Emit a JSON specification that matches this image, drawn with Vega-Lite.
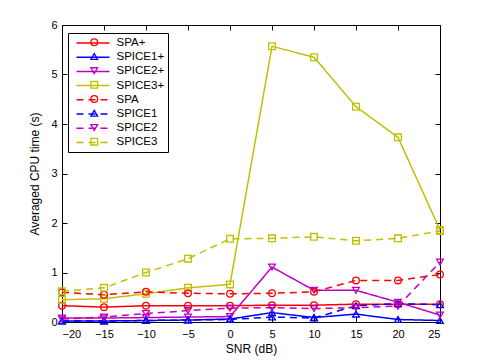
{
  "$schema": "https://vega.github.io/schema/vega-lite/v6.json",
  "width": 378,
  "height": 297,
  "autosize": "none",
  "padding": {"left": 62, "top": 25, "right": 45, "bottom": 41},
  "background": "white",
  "config": {
    "view": {"stroke": "black", "strokeWidth": 1},
    "font": "Liberation Sans",
    "axis": {"grid": false, "domain": false, "labelFont": "Liberation Sans", "titleFont": "Liberation Sans", "labelFontSize": 11, "titleFontSize": 12, "titleFontWeight": "normal", "labelColor": "black", "titleColor": "black", "tickColor": "black"}
  },
  "data": {"values": [
    {"snr": -20, "series": "SPA+", "time": 0.33},
    {"snr": -15, "series": "SPA+", "time": 0.30},
    {"snr": -10, "series": "SPA+", "time": 0.33},
    {"snr": -5, "series": "SPA+", "time": 0.33},
    {"snr": 0, "series": "SPA+", "time": 0.33},
    {"snr": 5, "series": "SPA+", "time": 0.34},
    {"snr": 10, "series": "SPA+", "time": 0.34},
    {"snr": 15, "series": "SPA+", "time": 0.36},
    {"snr": 20, "series": "SPA+", "time": 0.36},
    {"snr": 25, "series": "SPA+", "time": 0.36},
    {"snr": -20, "series": "SPICE1+", "time": 0.02},
    {"snr": -15, "series": "SPICE1+", "time": 0.02},
    {"snr": -10, "series": "SPICE1+", "time": 0.03},
    {"snr": -5, "series": "SPICE1+", "time": 0.04},
    {"snr": 0, "series": "SPICE1+", "time": 0.06},
    {"snr": 5, "series": "SPICE1+", "time": 0.19},
    {"snr": 10, "series": "SPICE1+", "time": 0.09},
    {"snr": 15, "series": "SPICE1+", "time": 0.16},
    {"snr": 20, "series": "SPICE1+", "time": 0.05},
    {"snr": 25, "series": "SPICE1+", "time": 0.03},
    {"snr": -20, "series": "SPICE2+", "time": 0.08},
    {"snr": -15, "series": "SPICE2+", "time": 0.08},
    {"snr": -10, "series": "SPICE2+", "time": 0.09},
    {"snr": -5, "series": "SPICE2+", "time": 0.10},
    {"snr": 0, "series": "SPICE2+", "time": 0.11},
    {"snr": 5, "series": "SPICE2+", "time": 1.11},
    {"snr": 10, "series": "SPICE2+", "time": 0.64},
    {"snr": 15, "series": "SPICE2+", "time": 0.64},
    {"snr": 20, "series": "SPICE2+", "time": 0.40},
    {"snr": 25, "series": "SPICE2+", "time": 0.14},
    {"snr": -20, "series": "SPICE3+", "time": 0.45},
    {"snr": -15, "series": "SPICE3+", "time": 0.47},
    {"snr": -10, "series": "SPICE3+", "time": 0.57},
    {"snr": -5, "series": "SPICE3+", "time": 0.69},
    {"snr": 0, "series": "SPICE3+", "time": 0.76},
    {"snr": 5, "series": "SPICE3+", "time": 5.57},
    {"snr": 10, "series": "SPICE3+", "time": 5.35},
    {"snr": 15, "series": "SPICE3+", "time": 4.35},
    {"snr": 20, "series": "SPICE3+", "time": 3.73},
    {"snr": 25, "series": "SPICE3+", "time": 1.86},
    {"snr": -20, "series": "SPA", "time": 0.60},
    {"snr": -15, "series": "SPA", "time": 0.55},
    {"snr": -10, "series": "SPA", "time": 0.61},
    {"snr": -5, "series": "SPA", "time": 0.58},
    {"snr": 0, "series": "SPA", "time": 0.57},
    {"snr": 5, "series": "SPA", "time": 0.58},
    {"snr": 10, "series": "SPA", "time": 0.61},
    {"snr": 15, "series": "SPA", "time": 0.84},
    {"snr": 20, "series": "SPA", "time": 0.84},
    {"snr": 25, "series": "SPA", "time": 0.96},
    {"snr": -20, "series": "SPICE1", "time": 0.02},
    {"snr": -15, "series": "SPICE1", "time": 0.02},
    {"snr": -10, "series": "SPICE1", "time": 0.03},
    {"snr": -5, "series": "SPICE1", "time": 0.04},
    {"snr": 0, "series": "SPICE1", "time": 0.05},
    {"snr": 5, "series": "SPICE1", "time": 0.10},
    {"snr": 10, "series": "SPICE1", "time": 0.08},
    {"snr": 15, "series": "SPICE1", "time": 0.33},
    {"snr": 20, "series": "SPICE1", "time": 0.37},
    {"snr": 25, "series": "SPICE1", "time": 0.35},
    {"snr": -20, "series": "SPICE2", "time": 0.06},
    {"snr": -15, "series": "SPICE2", "time": 0.10},
    {"snr": -10, "series": "SPICE2", "time": 0.17},
    {"snr": -5, "series": "SPICE2", "time": 0.23},
    {"snr": 0, "series": "SPICE2", "time": 0.28},
    {"snr": 5, "series": "SPICE2", "time": 0.29},
    {"snr": 10, "series": "SPICE2", "time": 0.27},
    {"snr": 15, "series": "SPICE2", "time": 0.29},
    {"snr": 20, "series": "SPICE2", "time": 0.32},
    {"snr": 25, "series": "SPICE2", "time": 1.21},
    {"snr": -20, "series": "SPICE3", "time": 0.62},
    {"snr": -15, "series": "SPICE3", "time": 0.69},
    {"snr": -10, "series": "SPICE3", "time": 1.00},
    {"snr": -5, "series": "SPICE3", "time": 1.28},
    {"snr": 0, "series": "SPICE3", "time": 1.68},
    {"snr": 5, "series": "SPICE3", "time": 1.69},
    {"snr": 10, "series": "SPICE3", "time": 1.72},
    {"snr": 15, "series": "SPICE3", "time": 1.64},
    {"snr": 20, "series": "SPICE3", "time": 1.69},
    {"snr": 25, "series": "SPICE3", "time": 1.84}
  ]},
  "layer": [
    {
      "mark": {"type": "line", "strokeWidth": 1.5},
      "encoding": {
        "x": {"field": "snr", "type": "quantitative", "scale": {"domain": [-20, 25], "nice": false, "zero": false},
              "axis": {"orient": "bottom", "values": [-20, -15, -10, -5, 0, 5, 10, 15, 20, 25], "tickSize": -5, "labelPadding": 11, "title": "SNR (dB)", "titlePadding": 4}},
        "y": {"field": "time", "type": "quantitative", "scale": {"domain": [0, 6], "nice": false},
              "axis": {"orient": "left", "values": [0, 1, 2, 3, 4, 5, 6], "tickSize": -5, "labelPadding": 10, "title": "Averaged CPU time (s)", "titlePadding": 9}},
        "color": {"field": "series", "type": "nominal",
                  "scale": {"domain": ["SPA+", "SPICE1+", "SPICE2+", "SPICE3+", "SPA", "SPICE1", "SPICE2", "SPICE3"],
                            "range": ["#ff0000", "#0000ff", "#c000c0", "#c0c000", "#ff0000", "#0000ff", "#c000c0", "#c0c000"]},
                  "legend": {"orient": "none", "legendX": 6, "legendY": 8, "title": null, "symbolType": "M-3,0H3", "symbolSize": 121, "symbolStrokeWidth": 1.5,
                             "labelFont": "Liberation Sans", "labelFontSize": 11.5, "labelColor": "black", "padding": 3.5, "symbolOffset": 15, "labelOffset": 17,
                             "rowPadding": 2.2, "strokeColor": "black", "fillColor": "white", "cornerRadius": 0}},
        "strokeDash": {"field": "series", "type": "nominal",
                       "scale": {"domain": ["SPA+", "SPICE1+", "SPICE2+", "SPICE3+", "SPA", "SPICE1", "SPICE2", "SPICE3"],
                                 "range": [[1, 0], [1, 0], [1, 0], [1, 0], [7, 5], [7, 5], [7, 5], [7, 5]]}}
      }
    },
    {
      "mark": {"type": "point", "filled": false, "size": 45, "strokeWidth": 1.3, "opacity": 1},
      "encoding": {
        "x": {"field": "snr", "type": "quantitative", "scale": {"domain": [-20, 25], "nice": false, "zero": false},
              "axis": {"orient": "top", "values": [-20, -15, -10, -5, 0, 5, 10, 15, 20, 25], "tickSize": -5, "labels": false, "title": null}},
        "y": {"field": "time", "type": "quantitative", "scale": {"domain": [0, 6], "nice": false},
              "axis": {"orient": "right", "values": [0, 1, 2, 3, 4, 5, 6], "tickSize": -5, "labels": false, "title": null}},
        "color": {"field": "series", "type": "nominal",
                  "scale": {"domain": ["SPA+", "SPICE1+", "SPICE2+", "SPICE3+", "SPA", "SPICE1", "SPICE2", "SPICE3"],
                            "range": ["#ff0000", "#0000ff", "#c000c0", "#c0c000", "#ff0000", "#0000ff", "#c000c0", "#c0c000"]},
                  "legend": {"orient": "none", "legendX": 20, "legendY": 8, "title": null, "symbolSize": 45, "symbolStrokeWidth": 1.3, "symbolFillColor": "transparent",
                             "labelFontSize": 11.5, "labelExpr": "''", "padding": 3.5, "symbolOffset": 3, "labelOffset": 4, "rowPadding": 1.2}},
        "shape": {"field": "series", "type": "nominal",
                  "scale": {"domain": ["SPA+", "SPICE1+", "SPICE2+", "SPICE3+", "SPA", "SPICE1", "SPICE2", "SPICE3"],
                            "range": ["circle", "triangle-up", "triangle-down", "square", "circle", "triangle-up", "triangle-down", "square"]}}
      }
    }
  ],
  "resolve": {
    "axis": {"x": "independent", "y": "independent"},
    "legend": {"color": "independent", "strokeDash": "independent", "shape": "independent"}
  }
}
